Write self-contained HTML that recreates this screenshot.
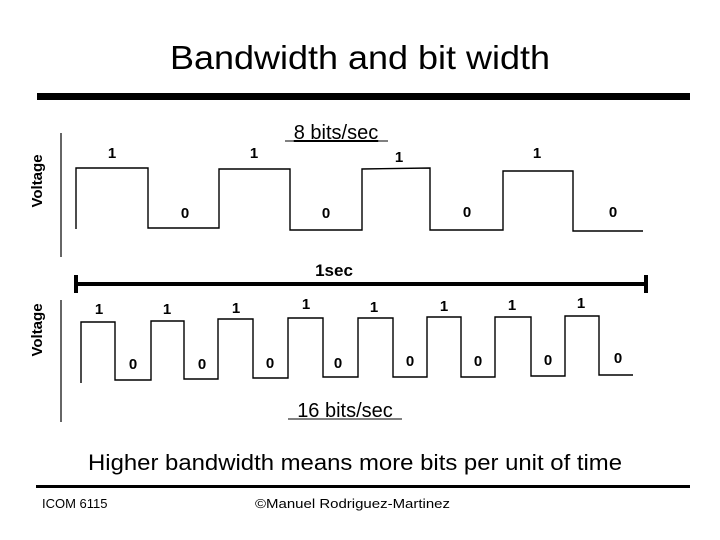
<!DOCTYPE html>
<html><head><meta charset="utf-8"><style>
html,body{margin:0;padding:0;background:#fff;}
svg{display:block;font-family:"Liberation Sans",Arial,sans-serif;}
</style></head><body>
<svg width="720" height="540" viewBox="0 0 720 540" xmlns="http://www.w3.org/2000/svg">
<text x="360" y="69" font-size="33" text-anchor="middle" textLength="380" lengthAdjust="spacingAndGlyphs">Bandwidth and bit width</text>
<rect x="37" y="93" width="653" height="7" fill="#000"/>

<!-- top chart -->
<text transform="translate(42,181) rotate(-90)" font-size="15" font-weight="bold" text-anchor="middle">Voltage</text>
<line x1="61" y1="133" x2="61" y2="257" stroke="#000" stroke-width="1.2"/>
<text x="336" y="139" font-size="20" text-anchor="middle" text-decoration="underline">8 bits/sec</text>
<line x1="285" y1="141" x2="388" y2="141" stroke="#000" stroke-width="1"/>
<polyline fill="none" stroke="#000" stroke-width="1.4" points="76,229 76,168 148,168 148,228 219,228 219,169 290,169 290,230 362,230 362,169 430,168 430,230 503,230 503,171 573,171 573,231 643,231"/>
<g font-size="15" font-weight="bold" text-anchor="middle">
<text x="112" y="158">1</text><text x="254" y="158">1</text><text x="399" y="162">1</text><text x="537" y="158">1</text>
<text x="185" y="218">0</text><text x="326" y="218">0</text><text x="467" y="217">0</text><text x="613" y="217">0</text>
</g>

<!-- 1sec bar -->
<text x="334" y="276" font-size="17" font-weight="bold" text-anchor="middle">1sec</text>
<line x1="76" y1="284" x2="646" y2="284" stroke="#000" stroke-width="4"/>
<line x1="76" y1="275" x2="76" y2="293" stroke="#000" stroke-width="4"/>
<line x1="646" y1="275" x2="646" y2="293" stroke="#000" stroke-width="4"/>

<!-- bottom chart -->
<text transform="translate(42,330) rotate(-90)" font-size="15" font-weight="bold" text-anchor="middle">Voltage</text>
<line x1="61" y1="300" x2="61" y2="422" stroke="#000" stroke-width="1.2"/>
<polyline fill="none" stroke="#000" stroke-width="1.4" points="81,383 81,322 115,322 115,380 151,380 151,321 184,321 184,379 218,379 218,319 253,319 253,378 288,378 288,318 323,318 323,377 358,377 358,318 393,318 393,377 427,377 427,317 461,317 461,377 495,377 495,317 531,317 531,376 565,376 565,316 599,316 599,375 633,375"/>
<g font-size="15" font-weight="bold" text-anchor="middle">
<text x="99" y="314">1</text><text x="167" y="314">1</text><text x="236" y="313">1</text><text x="306" y="309">1</text>
<text x="374" y="312">1</text><text x="444" y="311">1</text><text x="512" y="310">1</text><text x="581" y="308">1</text>
<text x="133" y="369">0</text><text x="202" y="369">0</text><text x="270" y="368">0</text><text x="338" y="368">0</text>
<text x="410" y="366">0</text><text x="478" y="366">0</text><text x="548" y="365">0</text><text x="618" y="363">0</text>
</g>
<text x="345" y="417" font-size="20" text-anchor="middle">16 bits/sec</text>
<line x1="288" y1="419" x2="402" y2="419" stroke="#000" stroke-width="1"/>

<text x="355" y="470" font-size="22" text-anchor="middle" textLength="534" lengthAdjust="spacingAndGlyphs">Higher bandwidth means more bits per unit of time</text>
<rect x="36" y="485" width="654" height="3" fill="#000"/>
<text x="42" y="508" font-size="13">ICOM 6115</text>
<text x="255" y="508" font-size="13" textLength="195" lengthAdjust="spacingAndGlyphs">©Manuel Rodriguez-Martinez</text>
</svg>
</body></html>
